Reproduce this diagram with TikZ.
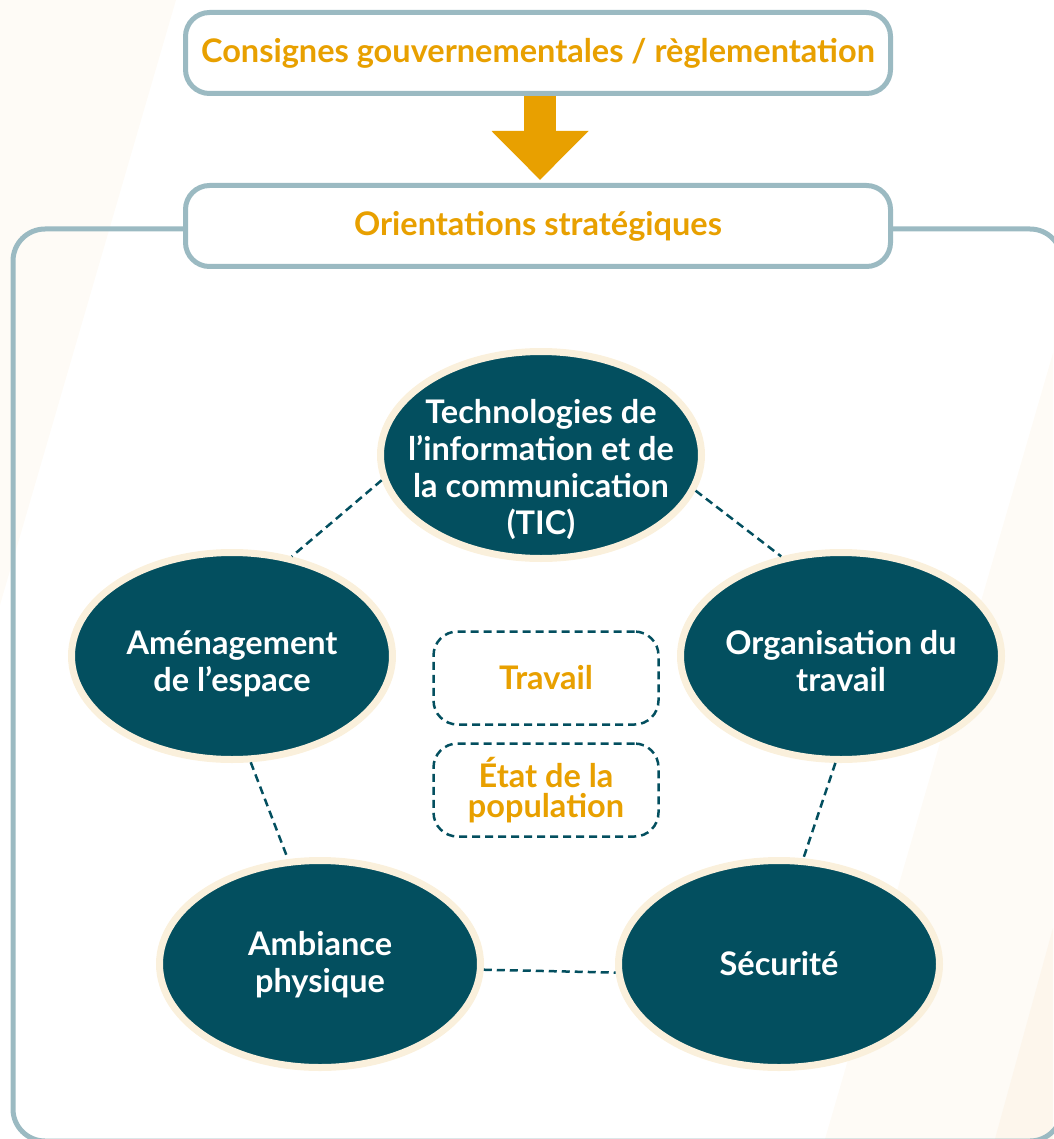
\documentclass[tikz,border=0pt]{standalone}
\usepackage{fontspec}
\setmainfont{Lato}
\usetikzlibrary{shapes.geometric,arrows.meta}
\definecolor{cteal}{HTML}{034F5F}
\definecolor{corange}{HTML}{E8A000}
\definecolor{cframe}{HTML}{9BBAC2}
\definecolor{ccream}{HTML}{FAF0DC}
\definecolor{cbgA}{HTML}{FEFBF6}
\definecolor{cbgB}{HTML}{FDF6EC}
\newcommand{\lowtext}[2]{\raisebox{-#1}[\height][\depth]{\begin{tabular}{@{}c@{}}#2\end{tabular}}}
\begin{document}
\begin{tikzpicture}[x=1pt,y=-1pt,
  hbox/.style={draw=cframe, line width=5pt, fill=white, rounded corners=24pt,
    minimum width=705pt, minimum height=81pt, inner sep=0pt,
    font=\fontsize{32.5}{38}\selectfont\bfseries, text=corange},
  topic/.style={ellipse, draw=ccream, line width=7pt, fill=cteal,
    minimum width=321pt, minimum height=207pt, inner xsep=-30pt, inner ysep=-12pt,
    align=center, text=white, font=\fontsize{32.5}{37}\selectfont\bfseries},
  dbox/.style={draw=cteal, dash pattern=on 8pt off 5pt, line width=2.5pt,
    rounded corners=24pt, minimum width=225pt, minimum height=93pt,
    inner sep=0pt, align=center, text=corange,
    font=\fontsize{32.5}{30}\selectfont\bfseries},
  link/.style={draw=cteal, line width=2.5pt, dash pattern=on 8pt off 5pt}]
\useasboundingbox (0,0) rectangle (1053,1139);
% background bands
\fill[cbgA] (0,0) -- (176,0) -- (0,605) -- cycle;
\fill[cbgA] (825,1139) -- (1053,353) -- (1053,1139) -- cycle;
\fill[cbgB] (995,1139) -- (1053,928) -- (1053,1139) -- cycle;
% frame
\draw[cframe, line width=5pt, rounded corners=32pt]
  (200,229) -- (13,229) -- (13,1141) -- (1062,1141) -- (1062,229) -- (870,229);
% header boxes
\node[hbox] (regl) at (538,53) {Consignes gouvernementales / règlementation};
\node[hbox] (orient) at (538,226) {Orientations stratégiques};
\draw[corange, line width=32pt, -{Triangle[length=49pt,width=94pt]}]
  ([xshift=2pt]regl.south) -- ([xshift=2pt,yshift=3pt]orient.north);
% topics
\node[topic] (tic) at (541,455) {\lowtext{17pt}{Technologies de\\l’information et de\\la communication\\(TIC)}};
\node[topic] (amen) at (232,656) {\lowtext{10pt}{Aménagement\\de l’espace}};
\node[topic] (orga) at (841,656) {\lowtext{10pt}{Organisation du\\travail}};
\node[topic] (amb) at (320,964) {\lowtext{3pt}{Ambiance\\physique}};
\node[topic] (secu) at (779,964) {Sécurité};
% links
\draw[link] (tic.189) -- (amen.59);
\draw[link] (tic.347) -- (orga.121);
\draw[link] (amen.280) -- (amb.107);
\draw[link] (orga.267) -- (secu.77);
\draw[link] (amb.358) -- (secu.183);
% centre boxes
\node[dbox] (trav) at (546,678) {Travail};
\node[dbox] (etat) at (546,790) {État de la\\population};
\end{tikzpicture}
\end{document}
